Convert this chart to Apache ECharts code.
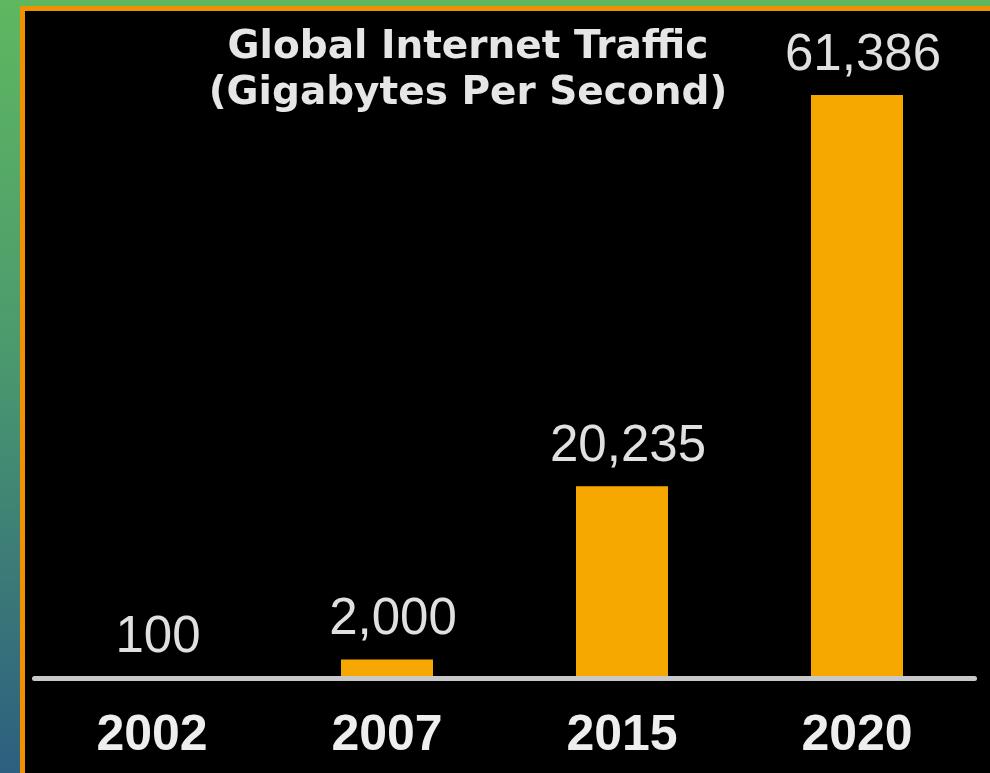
<!DOCTYPE html>
<html>
<head>
<meta charset="utf-8">
<title>Global Internet Traffic</title>
<script src="https://cdn.jsdelivr.net/npm/echarts@6/dist/echarts.min.js"></script>
<style>
  html, body { margin: 0; padding: 0; width: 990px; height: 773px; overflow: hidden; }
  body { background: linear-gradient(to bottom, #5fb760 0%, #4b9a6e 45%, #2d5f80 100%); position: relative; }
  #frame {
    position: absolute; left: 20px; top: 6px; width: 965px; height: 762px;
    border-left: 5px solid #f29100; border-top: 5px solid #f29100;
    background: #000;
  }
  #chart { position: absolute; left: 0; top: 0; width: 990px; height: 773px; }
</style>
</head>
<body>
<div id="frame"></div>
<div id="chart"></div>
<script>
// Global internet traffic, gigabytes per second
const years = ['2002', '2007', '2015', '2020'];
const traffic = [100, 2000, 20235, 61386];
const titleLines = ['Global Internet Traffic', '(Gigabytes Per Second)'];

const chart = echarts.init(document.getElementById('chart'), null, { renderer: 'canvas' });

chart.setOption({
  backgroundColor: 'transparent',
  animation: false,
  title: {
    text: titleLines.join('\n'),
    left: 463,
    top: 20,
    textAlign: 'center',
    textStyle: {
      color: '#e6e6e6',
      fontFamily: 'DejaVu Sans',
      fontWeight: 'bold',
      fontSize: 39,
      lineHeight: 46
    }
  },
  grid: { left: 34.5, right: 15.5, top: 40, bottom: 94.5 },
  xAxis: {
    type: 'category',
    data: years,
    z: 3,
    axisLine: { lineStyle: { color: '#c8c8c8', width: 5 } },
    axisTick: { show: false },
    axisLabel: {
      margin: 33,
      color: '#eeeeee',
      fontFamily: 'Liberation Sans',
      fontWeight: 'bold',
      fontSize: 50
    }
  },
  yAxis: {
    type: 'value',
    min: 0,
    max: 67170,
    show: false,
    splitLine: { show: false }
  },
  series: [{
    type: 'bar',
    data: traffic,
    barWidth: 92,
    itemStyle: { color: '#f6a800' },
    label: {
      show: true,
      position: 'top',
      distance: 14,
      offset: [6, 0],
      color: '#e0e0e0',
      fontFamily: 'Liberation Sans',
      fontSize: 51,
      formatter: p => p.value.toLocaleString('en-US')
    }
  }]
});
</script>
</body>
</html>
